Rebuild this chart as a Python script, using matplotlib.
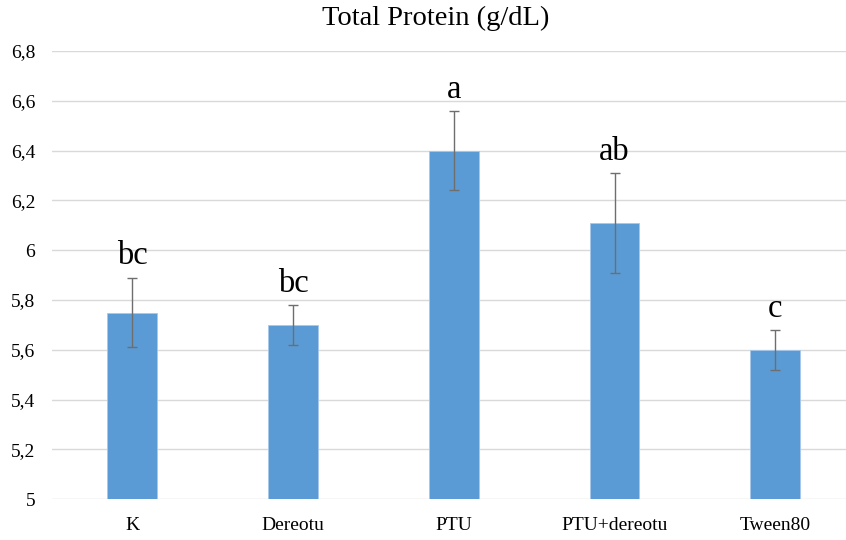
import matplotlib
matplotlib.use("Agg")
import matplotlib.pyplot as plt

# Mean total protein per group with SD and significance letters
groups = ["K", "Dereotu", "PTU", "PTU+dereotu", "Tween80"]
protein = [5.75, 5.70, 6.40, 6.11, 5.60]
sd = [0.14, 0.08, 0.16, 0.20, 0.08]
letters = ["bc", "bc", "a", "ab", "c"]

yticks = [5.0, 5.2, 5.4, 5.6, 5.8, 6.0, 6.2, 6.4, 6.6, 6.8]
ytick_labels = ["5", "5,2", "5,4", "5,6", "5,8", "6", "6,2", "6,4", "6,6", "6,8"]

plt.rcParams["font.family"] = ["Liberation Serif", "DejaVu Serif"]

fig = plt.figure(figsize=(8.46, 5.40), dpi=100)
ax = fig.add_axes([52 / 846, 1 - 499.3 / 540, 1 - 52 / 846, (499.3 - 51) / 540])

x = list(range(len(groups)))
ax.bar(x, [v - 5.0 for v in protein], bottom=5.0, width=0.31,
       color="#5B9BD5", edgecolor="#A8C8EA", linewidth=0.6, zorder=2)
ax.errorbar(x, protein, yerr=sd, fmt="none", ecolor="#6E6E6E",
            elinewidth=1.0, capsize=3.5, capthick=1.0, zorder=3)

for xi, v, e, lab in zip(x, protein, sd, letters):
    ax.annotate(lab, (xi, v + e), xytext=(0, 9.5), textcoords="offset points",
                ha="center", va="baseline", fontsize=23.5, color="black")

ax.set_xlim(-0.5, 4.44)
ax.set_ylim(5.0, 6.8)
ax.set_yticks(yticks)
ax.set_yticklabels(ytick_labels)
ax.set_xticks(x)
ax.set_xticklabels(groups)
ax.tick_params(axis="both", length=0, labelsize=14, colors="black")
ax.tick_params(axis="y", pad=12)
ax.tick_params(axis="x", pad=12.5)

ax.grid(axis="y", color="#D9D9D9", linewidth=1.0, zorder=0)
ax.set_axisbelow(True)
for s in ax.spines.values():
    s.set_visible(False)

fig.text(435.5 / 846, 1 - 25 / 540, "Total Protein (g/dL)", ha="center",
         va="baseline", fontsize=20.5, color="black")

fig.savefig("out.png", dpi=100)
